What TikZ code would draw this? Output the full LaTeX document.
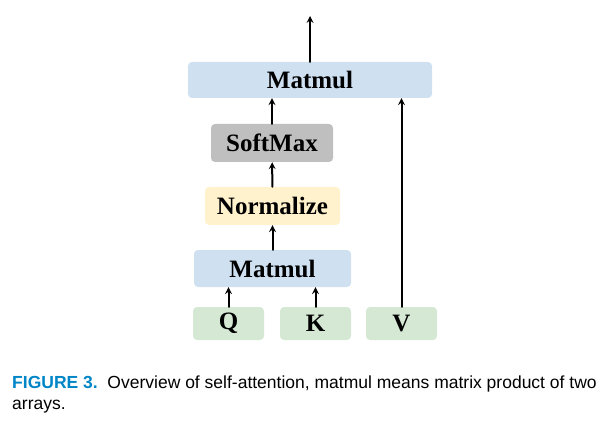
\documentclass[tikz,border=0pt]{standalone}
\usepackage{fontspec}
\setmainfont{Liberation Serif}
\setsansfont{Liberation Sans}
\definecolor{boxblue}{RGB}{207,224,241}
\definecolor{boxgray}{RGB}{191,191,191}
\definecolor{boxyellow}{RGB}{255,242,204}
\definecolor{boxgreen}{RGB}{213,232,212}
\definecolor{capblue}{RGB}{0,133,198}
\begin{document}
\begin{tikzpicture}[x=1pt, y=-1pt, >=stealth, line join=round, line cap=round,
	op/.style={rounded corners=4pt, inner sep=0pt, font=\fontsize{25}{28}\selectfont\bfseries},
	arr/.style={->, line width=2pt}]
	%Khung hình
	\useasboundingbox (0,0) rectangle (611,425);
	%Các khối phép toán
	\node[op, fill=boxblue, minimum width=244pt, minimum height=36pt] (mm2) at (310,80) {Matmul};
	\node[op, fill=boxgray, minimum width=122pt, minimum height=38pt] (sm) at (272,143) {SoftMax};
	\node[op, fill=boxyellow, minimum width=135pt, minimum height=38pt] (nm) at (272.5,206) {Normalize};
	\node[op, fill=boxblue, minimum width=157pt, minimum height=37pt] (mm1) at (272.5,268.5) {Matmul};
	%Các đầu vào Q, K, V
	\foreach \n/\x in {Q/228.5,K/315.5,V/401.5}
	\node[op, fill=boxgreen, minimum width=71pt, minimum height=33pt] (\n) at (\x,323.5) {\n};
	%Các mũi tên
	\coordinate (out) at (310,16);
	\draw[arr] (mm2.north) -- (out);
	\draw[arr] (sm) -- (sm |- mm2.south);
	\draw[arr] (nm) -- (sm);
	\draw[arr] (mm1) -- (nm);
	\foreach \n in {Q,K}
	\draw[arr] (\n) -- (\n |- mm1.south);
	\draw[arr] (V) -- (V |- mm2.south);
	%Chú thích
	\node[anchor=base west, inner sep=0pt, font=\sffamily\fontsize{17.5}{20}\selectfont] (cap1) at (12,388)
	{{\bfseries\color{capblue}FIGURE 3.}\ \ Overview of self-attention, matmul means matrix product of two};
	\node[anchor=base west, inner sep=0pt, font=\sffamily\fontsize{17.5}{20}\selectfont] (cap2) at (12,409) {arrays.};
\end{tikzpicture}
\end{document}
